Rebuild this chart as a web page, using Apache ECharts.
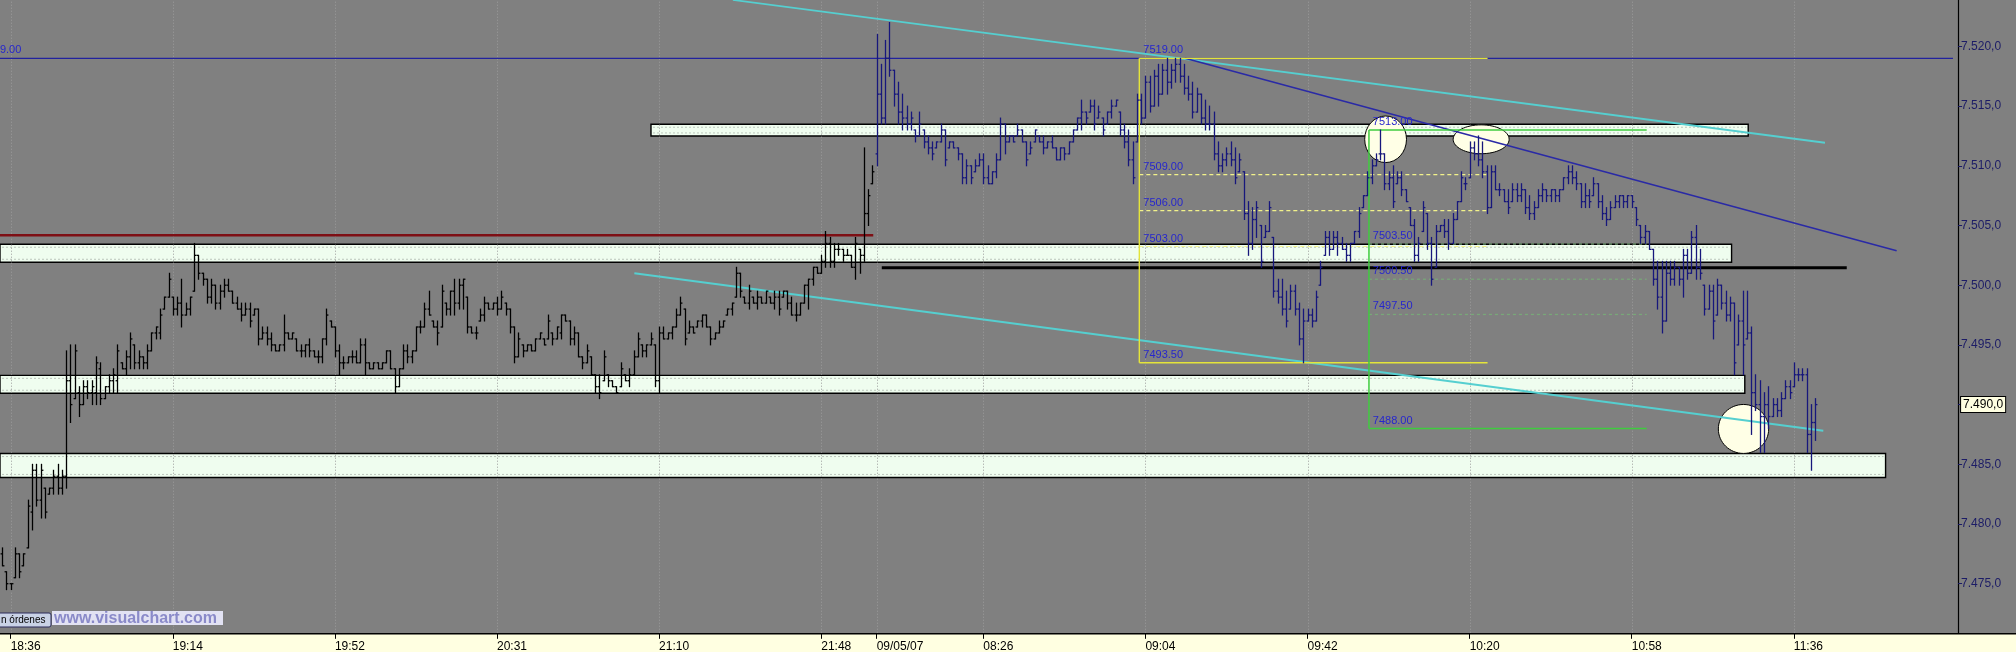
<!DOCTYPE html>
<html><head><meta charset="utf-8">
<script src="https://cdn.jsdelivr.net/npm/echarts@6/dist/echarts.min.js"></script>
<style>html,body{margin:0;padding:0;background:#808080;overflow:hidden}#c{width:2016px;height:652px}</style>
</head><body><div id="c"></div>
<script>
// ---------- DATA ----------
// OHLC bars [open, high, low, close] — evening session (black) then 09/05/07 morning (navy)
const eveningBars = [
[7477.5,7478,7476.5,7476.5],[7476,7476,7474.5,7475],[7475,7475,7474.5,7475],[7475.5,7478,7475.5,7477.5],[7477.5,7477.5,7475.5,7476],
[7476.5,7477.5,7476.5,7477.5],[7478,7482,7478,7481.5],[7481,7485,7479.5,7484.5],[7484.5,7485,7481.5,7482],[7482,7485,7480.5,7484.5],
[7483,7483,7480.5,7481],[7482.5,7483,7482.5,7483],[7483,7484.5,7482.5,7484],[7484,7485,7482.5,7483],[7483,7484.5,7482.5,7484],
[7484,7494.5,7483,7492],[7492,7495,7488.5,7490],[7490.5,7495,7490.5,7494.5],[7491,7491.5,7489,7490],[7490,7492,7490,7491.5],
[7491.5,7492,7490.5,7491],[7491,7492,7490,7491.5],[7491,7494,7490,7493.5],[7493,7493.5,7490,7490.5],[7490.5,7491.5,7490.5,7491.5],
[7491.5,7492.5,7491,7492],[7492,7493,7491,7492.5],[7492,7495,7491,7494.5],[7493.5,7493.5,7493,7493],[7493,7494.5,7492.5,7494],
[7494,7496,7493,7495.5],[7495,7495,7493,7493.5],[7493.5,7494.5,7493,7494],[7494,7494,7493,7493.5],[7493.5,7495,7493,7494.5],
[7494.5,7496,7494.5,7496],[7496,7496.5,7495.5,7496.5],[7496,7498,7495.5,7497.5],[7498,7499,7498,7499],[7499,7501,7499,7500.5],
[7499,7499,7497.5,7498],[7498,7499,7497.5,7498.5],[7498.5,7500.5,7496.5,7497.5],[7497.5,7498.5,7497.5,7498],[7498,7499,7497.5,7499],
[7499.5,7503.5,7499.5,7502.5],[7502.5,7502.5,7500.5,7501],[7501,7501,7500,7500.5],[7500.5,7500.5,7498.5,7499],[7499,7500.5,7498.5,7500],
[7500,7500,7498,7498.5],[7498.5,7500,7498,7499.5],[7499.5,7500.5,7499,7500],[7500,7500.5,7499.5,7499.5],[7499.5,7499.5,7498.5,7498.5],
[7498.5,7499,7498,7498],[7498,7498.5,7497,7497.5],[7497.5,7498.5,7497.5,7498],[7498,7498.5,7496.5,7497],[7497.5,7498,7497.5,7498],
[7498,7498,7495,7495.5],[7495.5,7496.5,7495.5,7496],[7496,7496.5,7495,7495.5],[7495.5,7496,7494.5,7495],[7495,7495,7494.5,7494.5],
[7494.5,7495,7494.5,7495],[7495,7497.5,7494.5,7496],[7496,7496,7495.5,7495.5],[7495.5,7496,7495.5,7496],[7495.5,7495.5,7494.5,7494.5],
[7494.5,7495,7494,7494.5],[7494.5,7495,7494,7495],[7495,7495.5,7494,7494.5],[7494.5,7494.5,7494,7494],[7494,7494.5,7493.5,7494],
[7494,7495.5,7493.5,7495.5],[7495.5,7498,7495,7497.5],[7497,7497,7496.5,7496.5],[7496.5,7496.5,7494,7494.5],[7494.5,7495,7492.5,7493.5],
[7493.5,7494,7493,7493.5],[7493.5,7494,7493.5,7494],[7494,7494.5,7493.5,7494],[7494,7494.5,7493.5,7493.5],[7493.5,7495.5,7493.5,7495],
[7495,7495.5,7492.5,7493.5],[7493.5,7493.5,7493,7493],[7493,7493.5,7493,7493.5],[7493.5,7493.5,7493,7493],[7493,7493.5,7493,7493.5],
[7493.5,7494.5,7493.5,7494.5],[7494.5,7494.5,7493,7493],[7493,7493,7491,7491.5],[7491.5,7493,7491.5,7493],[7493,7495,7493,7494.5],
[7494.5,7495,7493.5,7494],[7494,7494.5,7493.5,7494.5],[7494.5,7496.5,7494.5,7496.5],[7496.5,7497,7496,7496.5],[7496.5,7498.5,7496.5,7498],
[7498,7499.5,7497.5,7497.5],[7497,7497,7496.5,7496.5],[7496.5,7497,7495,7496],[7496.5,7500,7496.5,7499.5],[7498.5,7498.5,7497.5,7498],
[7498,7499.5,7497.5,7499.5],[7499.5,7500.5,7497.5,7498.5],[7498.5,7500.5,7498,7500],[7500,7500.5,7498,7500.5],[7499,7499,7496,7496.5],
[7496.5,7496.5,7496,7496],[7496,7496.5,7495.5,7496],[7497,7498,7497,7497.5],[7497.5,7499,7497,7498.5],[7498.5,7498.5,7498,7498],
[7498,7498.5,7498,7498.5],[7498.5,7499,7497.5,7498],[7498,7499.5,7498,7499],[7498.5,7498.5,7497.5,7498],[7498,7498,7496,7496.5],
[7496.5,7496.5,7493.5,7494],[7494,7496,7494,7495.5],[7495,7495,7494,7494.5],[7494.5,7495,7494.5,7495],[7495,7495,7494.5,7494.5],
[7494.5,7495.5,7494.5,7495.5],[7495.5,7496,7495.5,7496],[7495.5,7495.5,7495,7495],[7495.5,7497.5,7495.5,7497],[7496,7496,7495,7495.5],
[7495.5,7496.5,7495.5,7496.5],[7496,7497.5,7495.5,7497.5],[7497.5,7497.5,7497,7497],[7497,7497,7495,7495.5],[7495.5,7496.5,7495,7496],
[7496,7496,7494,7494],[7494,7494,7493,7493.5],[7493.5,7495,7493.5,7494.5],[7494,7494,7492.5,7492.5],[7492.5,7492.5,7491,7491.5],
[7491.5,7492.5,7490.5,7491],[7492,7494.5,7492,7494],[7492.5,7492.5,7491.5,7492],[7492,7492,7491.5,7491.5],[7491.5,7491.5,7491,7491],
[7491.5,7493.5,7491.5,7493],[7492.5,7492.5,7492,7492],[7492,7493,7491.5,7492.5],[7492.5,7494.5,7492.5,7494],[7494,7496,7494,7495.5],
[7495,7495,7494,7494.5],[7494.5,7495,7494,7495],[7495,7496,7495,7495.5],[7495,7495,7491.5,7492],[7492,7496.5,7491,7496],
[7496,7496.5,7495.5,7495.5],[7495.5,7496,7495.5,7496],[7496,7496.5,7495.5,7496.5],[7496.5,7498,7496.5,7497.5],[7497.5,7499,7497.5,7498.5],
[7498,7498,7495,7495.5],[7496,7497,7496,7496.5],[7496.5,7496.5,7496,7496],[7496.5,7497,7496.5,7497],[7497,7497.5,7496.5,7497.5],
[7497.5,7497.5,7496.5,7496.5],[7496.5,7496.5,7495,7495.5],[7495.5,7496,7495.5,7496],[7496,7497,7496,7496.5],[7496.5,7497,7496.5,7497],
[7497.5,7498,7497.5,7498],[7498,7498.5,7497.5,7498.5],[7499,7501.5,7499,7501],[7501,7501,7499,7499.5],[7499,7499,7498.5,7498.5],
[7498.5,7500,7498,7499.5],[7499,7499,7498.5,7498.5],[7498.5,7499.5,7498,7499],[7499,7499,7498.5,7498.5],[7498.5,7499.5,7498.5,7499.5],
[7499,7499,7498.5,7498.5],[7498.5,7499.5,7498,7499],[7499,7499.5,7497.5,7498],[7499,7499.5,7499,7499.5],[7499.5,7499.5,7498,7498.5],
[7498.5,7499,7497.5,7497.5],[7497.5,7498.5,7497,7497.5],[7497.5,7498.5,7497.5,7498.5],[7498.5,7500,7498.5,7500],[7500,7500.5,7498,7500.5],
[7500.5,7501.5,7500,7501.5],[7501.5,7501.5,7501,7501],[7501,7502.5,7501,7502],[7502,7504.5,7501.5,7503.5],[7503.5,7504,7501.5,7502],
[7502,7503.5,7501.5,7503],[7503,7503.5,7502.5,7503],[7503,7503,7502,7502.5],[7502.5,7503,7502.5,7502.5],[7502.5,7502.5,7501.5,7501.5],
[7501.5,7504,7500.5,7503.5],[7503,7503,7501,7502.5],[7502.5,7511.5,7502,7506],[7506,7508,7505,7507.5],[7508.5,7510,7508.5,7509.5]
];
const morningBars = [
[7511,7521,7510,7516],[7516,7518.5,7513.5,7514],[7514,7520.5,7513.5,7519],[7519,7522,7517.5,7518],[7518,7518,7515,7516],
[7516,7517,7513.5,7514.5],[7514.5,7516,7513,7514],[7514,7515,7513,7513.5],[7513.5,7514.5,7513,7514],[7513,7513,7512,7512.5],
[7512.5,7514.5,7512.5,7513.5],[7513,7513,7511.5,7512],[7512,7512.5,7511,7511.5],[7511.5,7512,7510.5,7511],[7511.5,7512,7511.5,7512],
[7512,7513.5,7512,7513],[7513,7513,7510,7510.5],[7511.5,7512,7511.5,7512],[7512,7512,7511.5,7511.5],[7511.5,7511.5,7510.5,7511],
[7511,7511,7508.5,7509],[7509,7510.5,7508.5,7510],[7510,7510,7508.5,7509],[7509.5,7510.5,7509.5,7510],[7510,7511,7510,7510.5],
[7510.5,7511,7508.5,7509],[7509,7510,7508.5,7508.5],[7508.5,7509.5,7508.5,7509.5],[7509.5,7511,7509,7510.5],[7510.5,7514,7510.5,7513.5],
[7513.5,7513.5,7511,7512],[7512,7512.5,7512,7512.5],[7512.5,7512.5,7512,7512],[7512.5,7513.5,7512.5,7513],[7513,7513,7512,7512],
[7512,7512,7510,7510.5],[7511,7512,7511,7511.5],[7512,7513,7512,7513],[7512.5,7512.5,7512,7512],[7512,7512.5,7511,7511.5],
[7511.5,7512,7511.5,7512],[7512,7512.5,7511.5,7511.5],[7511.5,7511.5,7510.5,7510.5],[7510.5,7511.5,7510.5,7511.5],[7511.5,7511.5,7510.5,7511],
[7511,7512,7511,7512],[7512,7513,7512,7513],[7513,7514,7513,7514],[7514,7515.5,7513,7514.5],[7514.5,7514.5,7513.5,7514],
[7514.5,7515.5,7514.5,7515],[7515,7515.5,7513,7513.5],[7514,7515,7514,7514.5],[7514,7514,7512.5,7513],[7513.5,7514.5,7513.5,7514.5],
[7514.5,7515.5,7514,7515],[7515,7515.5,7515,7515.5],[7514.5,7514.5,7512.5,7513],[7513,7513.5,7511.5,7512],[7512,7513,7510,7510.5],
[7510.5,7512,7508.5,7509],[7512,7516,7512,7515.5],[7515.5,7516,7513.5,7514],[7514,7517.5,7514,7517],[7517,7517.5,7514.5,7515],
[7515,7518,7515,7517.5],[7517.5,7518.5,7515,7516],[7516,7518.5,7516,7518],[7518,7519,7516,7517],[7517,7518.5,7516.5,7518],
[7518,7519,7517,7518.5],[7518.5,7519,7517,7517.5],[7517.5,7518.5,7516,7516.5],[7516.5,7517.5,7515.5,7516],[7516,7517,7514,7514.5],
[7514.5,7516.5,7514.5,7516],[7516,7516,7513.5,7514],[7514,7515.5,7513,7513.5],[7513.5,7515,7513,7513.5],[7513.5,7514.5,7510.5,7511],
[7511,7512,7509.5,7510],[7510,7511,7509.5,7510.5],[7510.5,7511.5,7510,7511],[7511,7512,7510,7510.5],[7510.5,7511.5,7508.5,7509],
[7509.5,7511,7509.5,7510.5],[7509.5,7509.5,7505.5,7506],[7506,7507,7502.5,7503.5],[7503.5,7506.5,7503,7505.5],[7505.5,7507,7504,7506.5],
[7505,7505,7501.5,7502],[7504,7505,7504,7504.5],[7504.5,7507,7504.5,7506.5],[7504,7504,7499,7499.5],[7499.5,7500.5,7498.5,7499],
[7499,7500.5,7497.5,7498],[7498,7499.5,7496.5,7497],[7498,7500,7498,7499.5],[7499.5,7500,7497.5,7498],[7498,7498.5,7495,7495.5],
[7495.5,7498,7493.5,7497],[7497,7498,7497,7497.5],[7497.5,7498,7496.5,7497],[7497,7499.5,7497,7499],[7500,7502,7500,7501.5],
[7502.5,7504.5,7502.5,7504],[7504,7504.5,7502.5,7503],[7503,7504.5,7503,7504],[7504,7504.5,7502.5,7503.5],[7503.5,7504,7503,7503],
[7503,7503.5,7502,7502.5],[7502.5,7503.5,7502,7503.5],[7503.5,7504.5,7503.5,7504.5],[7504.5,7506.5,7504,7506],[7506.5,7507.5,7506.5,7507.5],
[7507.5,7509.5,7507.5,7509],[7509,7510.5,7508.5,7510],[7510,7511,7510,7510.5],[7511,7513,7510.5,7511],[7511,7511,7508,7508.5],
[7508.5,7509.5,7508,7509],[7509,7510,7506.5,7507],[7508.5,7509.5,7508.5,7509],[7509,7509.5,7507.5,7508],[7508,7508,7507,7507],
[7506.5,7506.5,7505,7505],[7505,7505.5,7502,7502.5],[7502.5,7504,7502,7503.5],[7504.5,7507,7504.5,7506.5],[7506,7506,7503,7503.5],
[7503.5,7504,7500,7500.5],[7501.5,7505,7501.5,7504.5],[7504.5,7505,7504.5,7505],[7505,7505.5,7504,7504.5],[7504.5,7505.5,7503,7503.5],
[7503.5,7506,7503.5,7505.5],[7505.5,7507,7505.5,7507],[7507,7509.5,7507,7509],[7508.5,7509,7508,7508.5],[7509,7512,7509,7511.5],
[7511.5,7512,7510.5,7511],[7511,7512.5,7510,7510.5],[7510.5,7512,7509,7509.5],[7509.5,7510,7506,7506.5],[7506.5,7510,7506.5,7509.5],
[7509.5,7510,7508,7508],[7508,7508.5,7507.5,7508],[7508,7508,7507,7507],[7507,7508,7506,7506.5],[7507,7508.5,7507,7508],
[7508,7508.5,7507,7507.5],[7507.5,7508.5,7507,7508],[7508,7508,7506,7506.5],[7506.5,7507.5,7505.5,7506],[7506,7507,7505.5,7506.5],
[7506.5,7508,7506.5,7507.5],[7507.5,7508.5,7507,7508],[7508,7508,7507,7507.5],[7507.5,7508,7507,7508],[7508,7508,7507,7507.5],
[7507.5,7508,7507,7508],[7508,7509,7508,7509],[7509,7510,7508.5,7509.5],[7509.5,7510,7508.5,7509],[7509,7509.5,7508,7508.5],
[7508.5,7508.5,7506.5,7507],[7507,7508.5,7506.5,7507.5],[7507.5,7508,7506.5,7507],[7507.5,7509,7507.5,7508.5],[7508.5,7508.5,7506.5,7507],
[7507,7507.5,7505.5,7506],[7506,7506.5,7505,7505.5],[7505.5,7507,7505.5,7506.5],[7506.5,7507.5,7506.5,7507],[7507,7507.5,7506.5,7507.5],
[7507.5,7507.5,7506.5,7507],[7507,7507.5,7506.5,7507.5],[7507.5,7507.5,7506.5,7507],[7506.5,7506.5,7505,7505.5],[7505,7505,7503.5,7504],
[7504,7505,7503.5,7504.5],[7504.5,7504.5,7503,7503],[7503,7503,7500,7500.5],[7500.5,7502,7498,7499],[7499,7502,7496,7497],
[7497,7502,7497,7501],[7501,7502,7500,7500.5],[7500.5,7502,7500,7501.5],[7501.5,7501.5,7500,7500.5],[7500.5,7503,7499,7502.5],
[7502.5,7503,7500.5,7501],[7501,7504.5,7501,7504],[7504,7505,7500.5,7501.5],[7501.5,7503,7500.5,7501],[7500,7500,7497.5,7498],
[7498,7500,7498,7499.5],[7499.5,7500,7495.5,7497],[7497.5,7500.5,7497.5,7500],[7500,7500,7498,7498.5],[7498.5,7499.5,7497,7497.5],
[7497.5,7499,7497,7498.5],[7498.5,7498.5,7492.5,7493.5],[7495,7497.5,7495,7497],[7497,7499.5,7492.5,7495],[7495.5,7499.5,7495.5,7496],
[7496,7496.5,7487.5,7491],[7491,7492.5,7489.5,7490],[7490,7492,7486,7489],[7489,7491,7486,7490],[7490,7491.5,7488,7489],
[7489,7490.5,7489,7490],[7490,7490.5,7489,7489.5],[7489.5,7491,7489,7490.5],[7490.5,7492,7490.5,7491.5],[7491.5,7492,7490.5,7491],
[7491.5,7493.5,7491.5,7492.5],[7492.5,7493,7492,7492.5],[7492.5,7493,7492,7492.5],[7492.5,7493,7486,7487.5],[7487.5,7490,7484.5,7488.5],
[7488.5,7490.5,7487,7490]
];
// time-axis tick labels at bar slots
const tickSlots  = [2, 40, 78, 116, 154, 192, 205, 230, 268, 306, 344, 382, 420];
const tickLabels = ['18:36','19:14','19:52','20:31','21:10','21:48','09/05/07','08:26','09:04','09:42','10:20','10:58','11:36'];
const lastPrice = 7490;
// support/resistance bands [fromSlot, toSlot, lowPrice, highPrice]
const zones = [[152.6, 409.8, 7512.5, 7513.48], [0, 405.9, 7501.92, 7503.43], [0, 409.0, 7490.95, 7492.45], [0, 442.0, 7483.9, 7485.9]];
// drawn lines [slot1, price1, slot2, price2]
const redLevel   = [[0, 7504.18, 204.7, 7504.18]];
const highLevel  = [[0, 7519, 457.8, 7519]];
const pivotLevel = [[206.7, 7501.47, 432.9, 7501.47]];
const cyanChannel = [[171.8, 7523.89, 427.8, 7511.93], [148.7, 7501.0, 427.4, 7487.81]];
const downTrend  = [[277.8, 7519.0, 444.6, 7502.89]];
const yellowFibFrame = [[267.07, 7519, 267.07, 7493.5], [267.07, 7519, 348.7, 7519], [267.07, 7493.5, 348.7, 7493.5]];
const yellowFibLevels = [[267.07, 7509.26, 348.7, 7509.26], [267.07, 7506.25, 348.7, 7506.25], [267.07, 7503.24, 348.7, 7503.24]];
const greenFibFrame = [[320.9, 7513, 320.9, 7488], [320.9, 7513, 386.0, 7513], [320.9, 7488, 386.0, 7488]];
const greenFibLevels = [[320.9, 7503.45, 386.0, 7503.45], [320.9, 7500.5, 386.0, 7500.5], [320.9, 7497.55, 386.0, 7497.55]];
const levelLabelPos = [[268.0, 7519], [268.0, 7509.26], [268.0, 7506.25], [268.0, 7503.24], [268.0, 7493.5],
                       [321.8, 7513], [321.8, 7503.45], [321.8, 7500.5], [321.8, 7497.55], [321.8, 7488]];
const levelLabelText = ['7519.00','7509.00','7506.00','7503.00','7493.50','7513.00','7503.50','7500.50','7497.50','7488.00'];
const edgeLabelPos = [[5.0, 7519]];
const edgeLabelText = ['7519.00'];
// highlight ellipses [centerSlot, centerPrice, halfWidthSlots, halfHeightPrice]
const ellipses = [[324.8, 7512.22, 4.9, 1.95], [347.2, 7512.22, 6.56, 1.21], [408.7, 7487.96, 5.9, 2.05]];

// ---------- LAYOUT ----------
const SLOTS = 459, SLOT_PX = 4.266, PLOT_W = SLOTS * SLOT_PX;
const Y_MIN = 7470, Y_MAX = 7525, GRID_TOP = -13.3, GRID_H = 656.7;
const AXIS_Y = 633.8;

const chart = echarts.init(document.getElementById('c'), null, {renderer: 'canvas', width: 2016, height: 652});
const cats = Array.from({length: SLOTS}, (_, i) => String(i));
const labelAt = {}; tickSlots.forEach((s, k) => { labelAt[s] = tickLabels[k]; });
const isTick = (i) => labelAt[i] !== undefined;

function fmtPrice(v) {
  const whole = Math.floor(v + 1e-9);
  const dec = Math.round((v - whole) * 10);
  return Math.floor(whole / 1000) + '.' + String(whole % 1000).padStart(3, '0') + ',' + dec;
}

function segSeries(segs, color, width, dash, z) {
  return {
    type: 'custom', xAxisIndex: 0, yAxisIndex: 0, z: z, silent: true,
    data: segs,
    renderItem: function (params, api) {
      const a = api.coord([api.value(0), api.value(1)]);
      const b = api.coord([api.value(2), api.value(3)]);
      return {type: 'line', shape: {x1: a[0], y1: a[1], x2: b[0], y2: b[1]},
        style: {stroke: color, lineWidth: width, lineDash: dash || null}};
    }
  };
}

function ohlcSeries(bars, offset, color) {
  return {
    type: 'custom', xAxisIndex: 0, yAxisIndex: 0, z: 5, silent: true,
    data: bars.map((b, i) => [offset + i + 0.5, b[0], b[1], b[2], b[3]]),
    renderItem: function (params, api) {
      const x = api.value(0);
      const pO = api.coord([x, api.value(1)]);
      const pH = api.coord([x, api.value(2)]);
      const pL = api.coord([x, api.value(3)]);
      const pC = api.coord([x, api.value(4)]);
      const w = api.size([1, 0])[0];
      const cx = Math.round(pH[0]) + 0.5;
      const t = Math.max(1.5, w * 0.45);
      const st = {stroke: color, lineWidth: 1.3};
      return {type: 'group', children: [
        {type: 'line', shape: {x1: cx, y1: pH[1] - 0.5, x2: cx, y2: pL[1] + 0.5}, style: st},
        {type: 'line', shape: {x1: cx - t, y1: pO[1], x2: cx, y2: pO[1]}, style: st},
        {type: 'line', shape: {x1: cx, y1: pC[1], x2: cx + t, y2: pC[1]}, style: st}
      ]};
    }
  };
}

function textSeries(pos, texts, align, z) {
  return {
    type: 'custom', xAxisIndex: 0, yAxisIndex: 0, z: z, silent: true,
    data: pos,
    renderItem: function (params, api) {
      const p = api.coord([api.value(0), api.value(1)]);
      return {type: 'text', x: p[0], y: p[1] - 8,
        style: {text: texts[params.dataIndex], fill: '#2626cc', font: '11px Arial, "Liberation Sans", sans-serif',
          align: align, verticalAlign: 'middle', textAlign: align, textVerticalAlign: 'middle'}};
    }
  };
}

const option = {
  animation: false,
  backgroundColor: '#808080',
  grid: [
    {left: 0, top: GRID_TOP, width: PLOT_W, height: GRID_H, containLabel: false, outerBoundsMode: 'none'},
    {left: 0, top: AXIS_Y - 22, width: PLOT_W, height: 22, containLabel: false, outerBoundsMode: 'none'}
  ],
  xAxis: [
    {type: 'value', gridIndex: 0, min: 0, max: SLOTS, show: false},
    {type: 'category', gridIndex: 1, data: cats, zlevel: 1, z: 10,
      axisLine: {show: false},
      axisTick: {show: true, alignWithLabel: true, interval: (i) => isTick(i), length: 5, lineStyle: {color: '#000', width: 1}},
      axisLabel: {show: true, interval: (i) => isTick(i), formatter: (v, i) => labelAt[i] || '',
        align: 'left', margin: 7, color: '#000', fontSize: 12, fontFamily: 'Arial, "Liberation Sans", sans-serif'},
      splitLine: {show: false}}
  ],
  yAxis: [
    {type: 'value', gridIndex: 0, position: 'right', min: Y_MIN, max: Y_MAX, interval: 5,
      axisLine: {show: true, onZero: false, lineStyle: {color: '#000', width: 1.2}},
      axisTick: {show: true, length: 4, lineStyle: {color: '#1c1c66'}},
      axisLabel: {margin: 3, color: '#1c1c66', fontSize: 12, fontFamily: 'Arial, "Liberation Sans", sans-serif',
        formatter: (v) => v === lastPrice ? '{box|' + fmtPrice(v) + '}' : fmtPrice(v),
        rich: {box: {backgroundColor: '#ffffe1', borderColor: '#000', borderWidth: 1, padding: [2, 2, 1, 2],
          color: '#000', fontSize: 12, fontFamily: 'Arial, "Liberation Sans", sans-serif'}}},
      splitLine: {show: false}},
    {type: 'value', gridIndex: 1, show: false}
  ],
  series: [
    // bands
    {type: 'custom', xAxisIndex: 0, yAxisIndex: 0, z: 1, silent: true, data: zones,
      renderItem: function (params, api) {
        const p1 = api.coord([api.value(0), api.value(3)]);
        const p2 = api.coord([api.value(1), api.value(2)]);
        const x = p1[0], y = p1[1], w = p2[0] - p1[0], h = p2[1] - p1[1];
        const dot = {stroke: '#bcc6bc', lineWidth: 1, lineDash: [2, 2]};
        return {type: 'group', children: [
          {type: 'rect', shape: {x: x, y: y, width: w, height: h}, style: {fill: '#effdef', stroke: '#000', lineWidth: 1.4}},
          {type: 'line', shape: {x1: x + 2, y1: y + 3, x2: x + w - 2, y2: y + 3}, style: dot},
          {type: 'line', shape: {x1: x + 2, y1: y + h - 3, x2: x + w - 2, y2: y + h - 3}, style: dot}
        ]};
      }},
    // vertical dotted time grid
    {type: 'custom', xAxisIndex: 0, yAxisIndex: 0, z: 2, silent: true, data: tickSlots.map(s => [s + 0.5, Y_MAX]),
      renderItem: function (params, api) {
        const a = api.coord([api.value(0), Y_MAX]);
        const b = api.coord([api.value(0), Y_MIN]);
        return {type: 'line', shape: {x1: Math.round(a[0]) + 0.5, y1: a[1], x2: Math.round(a[0]) + 0.5, y2: b[1]},
          style: {stroke: '#9c9c9c', lineWidth: 1, lineDash: [1, 2]}};
      }},
    // ellipses
    {type: 'custom', xAxisIndex: 0, yAxisIndex: 0, z: 3, silent: true, data: ellipses,
      renderItem: function (params, api) {
        const c = api.coord([api.value(0), api.value(1)]);
        const s = api.size([api.value(2), api.value(3)]);
        return {type: 'ellipse', shape: {cx: c[0], cy: c[1], rx: s[0], ry: s[1]},
          style: {fill: '#ffffe6', stroke: '#000', lineWidth: 1}};
      }},
    segSeries(highLevel, '#22229e', 1.4, null, 4),
    segSeries(redLevel, '#7e0f14', 2.6, null, 4),
    segSeries(pivotLevel, '#000000', 3, null, 4),
    segSeries(cyanChannel, '#55cfd0', 1.8, null, 4),
    segSeries(downTrend, '#2a2aa6', 1.6, null, 4),
    segSeries(yellowFibLevels, '#f2f28a', 1.2, [4, 3], 4),
    segSeries(yellowFibFrame, '#e4e43a', 1.4, null, 4),
    segSeries(greenFibLevels, '#78a878', 1.2, [3, 3], 4),
    segSeries(greenFibFrame, '#3fcc3f', 1.5, null, 4),
    ohlcSeries(eveningBars, 0, '#000000'),
    ohlcSeries(morningBars, eveningBars.length, '#17177c'),
    textSeries(levelLabelPos, levelLabelText, 'left', 6),
    textSeries(edgeLabelPos, edgeLabelText, 'right', 6)
  ],
  graphic: {elements: [
    {type: 'rect', zlevel: 1, z: 1, shape: {x: 0, y: AXIS_Y, width: 2016, height: 652 - AXIS_Y}, style: {fill: '#ffffe1'}},
    {type: 'line', zlevel: 1, z: 2, shape: {x1: 0, y1: AXIS_Y, x2: 2016, y2: AXIS_Y}, style: {stroke: '#000', lineWidth: 1.5}},
    {type: 'rect', zlevel: 1, z: 2, shape: {x: -3, y: 613, width: 54, height: 14, r: 2}, style: {fill: '#c9d2e6', stroke: '#2a2a5a', lineWidth: 1}},
    {type: 'text', zlevel: 1, z: 3, x: 1, y: 620, style: {text: 'n órdenes', fill: '#000', font: '10px Arial, "Liberation Sans", sans-serif', verticalAlign: 'middle', textVerticalAlign: 'middle'}},
    {type: 'rect', zlevel: 1, z: 2, shape: {x: 52, y: 611, width: 171, height: 14}, style: {fill: '#e2e2f3'}},
    {type: 'text', zlevel: 1, z: 3, x: 54, y: 618.5, style: {text: 'www.visualchart.com', fill: '#8a8ac9', font: 'bold 16px "Liberation Sans", Arial, sans-serif', verticalAlign: 'middle', textVerticalAlign: 'middle'}}
  ]}
};
chart.setOption(option);
</script>
</body></html>
